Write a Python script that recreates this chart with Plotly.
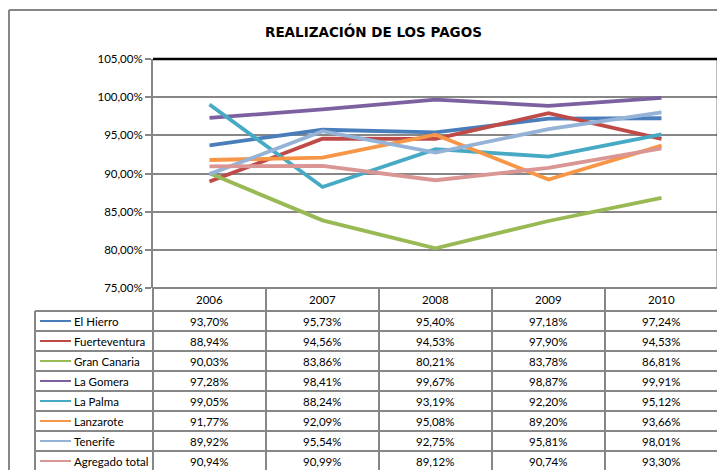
import plotly.graph_objects as go

years = ["2006", "2007", "2008", "2009", "2010"]
series_names = ["El Hierro", "Fuerteventura", "Gran Canaria", "La Gomera",
                "La Palma", "Lanzarote", "Tenerife", "Agregado total"]
el_hierro = [93.70, 95.73, 95.40, 97.18, 97.24]
fuerteventura = [88.94, 94.56, 94.53, 97.90, 94.53]
gran_canaria = [90.03, 83.86, 80.21, 83.78, 86.81]
la_gomera = [97.28, 98.41, 99.67, 98.87, 99.91]
la_palma = [99.05, 88.24, 93.19, 92.20, 95.12]
lanzarote = [91.77, 92.09, 95.08, 89.20, 93.66]
tenerife = [89.92, 95.54, 92.75, 95.81, 98.01]
agregado_total = [90.94, 90.99, 89.12, 90.74, 93.30]
series_values = [el_hierro, fuerteventura, gran_canaria, la_gomera,
                 la_palma, lanzarote, tenerife, agregado_total]
colors = ["#4A7EBB", "#BE4B48", "#98B954", "#7D60A0",
          "#46AAC5", "#F79646", "#95B3D7", "#D99694"]
title = "REALIZACIÓN DE LOS PAGOS"

W, H = 725, 470
# page body margin offset (browser default 8px)
OX, OY = 8, 8
def px(x): return (x - OX) / W
def py(y): return 1 - (y - OY) / H

FONT = "Lato, 'DejaVu Sans', sans-serif"
TITLE_FONT = "'DejaVu Sans', sans-serif"
GRAY = "#878787"

# plot area in (screen) pixels
PL, PR, PT, PB = 153, 718, 59, 288

fig = go.Figure()
for name, vals, c in zip(series_names, series_values, colors):
    fig.add_trace(go.Scatter(x=years, y=[v / 100 for v in vals], mode="lines",
                             name=name, line=dict(color=c, width=3.8),
                             showlegend=False, hoverinfo="skip"))

shapes = []
annotations = []

def hline(x0, x1, y, color=GRAY, w=2):
    shapes.append(dict(type="line", xref="paper", yref="paper",
                       x0=px(x0), x1=px(x1), y0=py(y), y1=py(y),
                       line=dict(color=color, width=w)))

def vline(x, y0, y1, color=GRAY, w=2):
    shapes.append(dict(type="line", xref="paper", yref="paper",
                       x0=px(x), x1=px(x), y0=py(y0), y1=py(y1),
                       line=dict(color=color, width=w)))

# outer chart border
hline(9, 740, 10)
vline(9, 10, 480)

# plot area top/right borders
hline(PL, PR, PT, color="#000000", w=2.5)
vline(PR, PT, PB, color="#000000", w=2.5)

# table grid
col_edges = [PL + (PR - PL) * i / len(years) for i in range(len(years) + 1)]
hdr_top, hdr_bot = PB, 311
row_h = 20
LEG_L = 35
hline(PL, PR, hdr_top)
for i in range(len(series_names)):
    hline(LEG_L, PR, hdr_bot + row_h * i)
for xe in col_edges:
    vline(xe, hdr_top, 480)
vline(LEG_L, hdr_bot, 480)

# header labels
for i, yr in enumerate(years):
    cx = (col_edges[i] + col_edges[i + 1]) / 2
    annotations.append(dict(xref="paper", yref="paper", x=px(cx), y=py((hdr_top + hdr_bot) / 2),
                            text=yr, showarrow=False, xanchor="center", yanchor="middle",
                            font=dict(family=FONT, size=11.5, color="#000")))

# data rows
for r, (name, vals, c) in enumerate(zip(series_names, series_values, colors)):
    yc = hdr_bot + row_h * r + row_h / 2
    shapes.append(dict(type="line", xref="paper", yref="paper",
                       x0=px(40), x1=px(71), y0=py(yc), y1=py(yc),
                       line=dict(color=c, width=2)))
    annotations.append(dict(xref="paper", yref="paper", x=px(72), y=py(yc),
                            text=name, showarrow=False, xanchor="left", yanchor="middle",
                            font=dict(family=FONT, size=11.5, color="#000")))
    for i, v in enumerate(vals):
        cx = (col_edges[i] + col_edges[i + 1]) / 2
        txt = f"{v:.2f}%".replace(".", ",")
        annotations.append(dict(xref="paper", yref="paper", x=px(cx), y=py(yc),
                                text=txt, showarrow=False, xanchor="center", yanchor="middle",
                                font=dict(family=FONT, size=11.5, color="#000")))

# title
annotations.append(dict(xref="paper", yref="paper", x=px(373), y=py(31),
                        text=f"<b>{title}</b>", showarrow=False, xanchor="center",
                        yanchor="middle", font=dict(family=TITLE_FONT, size=13.5, color="#000")))

fig.update_layout(
    width=W, height=H, autosize=False,
    margin=dict(l=0, r=0, t=0, b=0, autoexpand=False),
    paper_bgcolor="white", plot_bgcolor="white",
    separators=",.",
    shapes=shapes, annotations=annotations,
    xaxis=dict(domain=[px(PL), px(PR)], type="category", range=[-0.5, 4.5],
               showticklabels=False, showgrid=False, zeroline=False,
               showline=False, ticks="", automargin=False),
    yaxis=dict(domain=[py(PB), py(PT)], range=[0.75, 1.05], dtick=0.05,
               tick0=0.75, tickformat=".2%", showgrid=True, gridcolor=GRAY,
               gridwidth=2, zeroline=False, showline=True, linecolor=GRAY,
               linewidth=2, ticks="outside", ticklen=6, tickcolor=GRAY,
               tickwidth=2, automargin=False,
               tickfont=dict(family=FONT, size=11.5, color="#000")),
)

fig.write_html("out.html")
